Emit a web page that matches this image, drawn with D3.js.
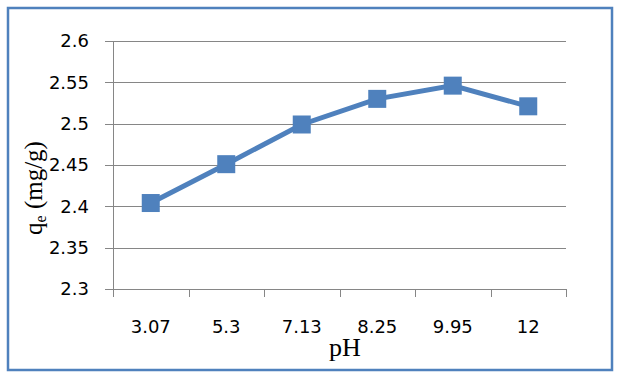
<!DOCTYPE html>
<html>
<head>
<meta charset="utf-8">
<script src="https://cdn.jsdelivr.net/npm/d3@7"></script>
<style>
  body { margin: 0; background: #fff; }
  svg { display: block; }
</style>
</head>
<body>
<svg id="chart" width="617" height="378"></svg>
<script>
// Data
const phLabels = ["3.07", "5.3", "7.13", "8.25", "9.95", "12"];
const qeValues = [2.404, 2.451, 2.499, 2.530, 2.546, 2.521];
const yTicks = [2.3, 2.35, 2.4, 2.45, 2.5, 2.55, 2.6];

const svg = d3.select("#chart");
const margin = { left: 113, top: 41, right: 51, bottom: 89 };
const W = 617, H = 378;
const w = W - margin.left - margin.right;
const h = H - margin.top - margin.bottom;

// Outer frame
svg.append("rect")
    .attr("x", 8).attr("y", 8)
    .attr("width", 604).attr("height", 362)
    .attr("fill", "#fff")
    .attr("stroke", "#4f81bd")
    .attr("stroke-width", 2.5);

const g = svg.append("g").attr("transform", `translate(${margin.left},${margin.top})`);

const x = d3.scaleBand().domain(phLabels).range([0, w]);
const y = d3.scaleLinear().domain([2.3, 2.6]).range([h, 0]);

// Gridlines
g.selectAll(".grid").data(yTicks).enter().append("line")
    .attr("x1", -8).attr("x2", w)
    .attr("y1", d => Math.round(y(d)) + 0.5).attr("y2", d => Math.round(y(d)) + 0.5)
    .attr("stroke", "#868686").attr("stroke-width", 1);

// Y axis line
g.append("line")
    .attr("x1", 0.5).attr("x2", 0.5).attr("y1", 0).attr("y2", h)
    .attr("stroke", "#868686");

// Y tick labels
g.selectAll(".ylab").data(yTicks).enter().append("text")
    .attr("x", -24)
    .attr("y", d => y(d))
    .attr("dy", "0.36em")
    .attr("text-anchor", "end")
    .attr("font-family", "DejaVu Sans, Verdana, sans-serif")
    .attr("font-size", 18)
    .attr("fill", "#000")
    .text(d => d3.format("")(+d.toFixed(2)));

// X tick marks at band edges
const edges = phLabels.map(d => x(d)).concat([w]);
g.selectAll(".xtick").data(edges).enter().append("line")
    .attr("x1", d => Math.round(d) + 0.5).attr("x2", d => Math.round(d) + 0.5)
    .attr("y1", h).attr("y2", h + 8)
    .attr("stroke", "#868686");

// X tick labels
g.selectAll(".xlab").data(phLabels).enter().append("text")
    .attr("x", d => x(d) + x.bandwidth() / 2)
    .attr("y", h + 44)
    .attr("text-anchor", "middle")
    .attr("font-family", "DejaVu Sans, Verdana, sans-serif")
    .attr("font-size", 18)
    .attr("fill", "#000")
    .text(d => d);

// Line
const line = d3.line()
    .x((d, i) => x(phLabels[i]) + x.bandwidth() / 2)
    .y(d => y(d));

g.append("path")
    .datum(qeValues)
    .attr("d", line)
    .attr("fill", "none")
    .attr("stroke", "#4f81bd")
    .attr("stroke-width", 5);

// Markers
const ms = 18;
g.selectAll(".mk").data(qeValues).enter().append("rect")
    .attr("x", (d, i) => x(phLabels[i]) + x.bandwidth() / 2 - ms / 2)
    .attr("y", d => y(d) - ms / 2)
    .attr("width", ms).attr("height", ms)
    .attr("fill", "#4f81bd");

// Axis titles
svg.append("text")
    .attr("x", 345).attr("y", 356)
    .attr("text-anchor", "middle")
    .attr("font-family", "Liberation Serif, Times New Roman, serif")
    .attr("font-size", 26)
    .attr("fill", "#000")
    .text("pH");

const yt = svg.append("text")
    .attr("transform", "translate(42,188) rotate(-90)")
    .attr("text-anchor", "middle")
    .attr("font-family", "Liberation Serif, Times New Roman, serif")
    .attr("font-size", 25)
    .attr("fill", "#000");
yt.append("tspan").text("q");
yt.append("tspan").attr("font-size", 16).attr("dy", 4).text("e");
yt.append("tspan").attr("dy", -4).text(" (mg/g)");
</script>
</body>
</html>
